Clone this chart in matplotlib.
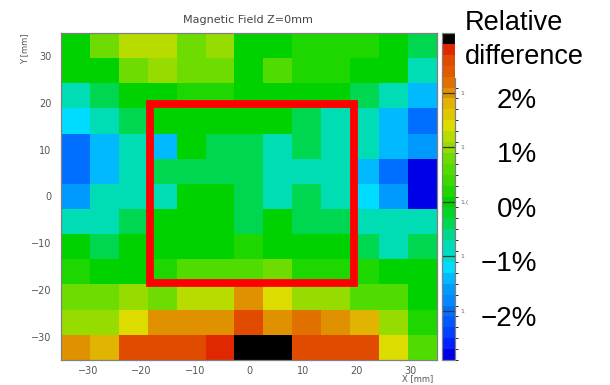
import matplotlib

matplotlib.use("Agg")
import matplotlib.pyplot as plt
import numpy as np
from matplotlib import font_manager
from matplotlib.colors import BoundaryNorm, ListedColormap
from matplotlib.patches import Rectangle
from matplotlib.transforms import ScaledTranslation, blended_transform_factory

# relative difference in percent, rows from top (y=+32) to bottom (y=-32), columns x=-32..+32
rel_diff_pct = [
    [0.0, 0.8, 1.2, 1.2, 0.8, 1.0, 0.0, 0.0, 0.2, 0.2, 0.2, 0.0, -0.4],
    [0.0, 0.0, 0.8, 1.0, 0.8, 0.8, 0.0, 0.6, 0.2, 0.2, 0.0, 0.0, -0.8],
    [-0.8, -0.4, 0.0, 0.0, 0.2, 0.2, 0.0, 0.0, 0.0, 0.0, -0.4, -0.8, -1.4],
    [-1.2, -0.8, -0.4, 0.0, 0.0, 0.0, 0.0, 0.0, -0.4, -0.8, -0.8, -1.4, -2.0],
    [-2.0, -1.4, -0.8, -1.4, 0.0, -0.4, -0.4, -0.8, -0.4, -0.8, -0.8, -1.4, -1.6],
    [-2.0, -1.4, -0.8, -0.4, -0.4, -0.4, -0.4, -0.8, -0.8, -0.8, -1.4, -2.0, -2.8],
    [-1.6, -0.8, -0.8, -0.8, 0.0, 0.0, -0.4, -0.8, -0.4, -0.8, -1.2, -1.6, -2.8],
    [-0.8, -0.8, -0.4, 0.0, 0.0, 0.0, -0.4, 0.0, -0.4, -0.4, -0.8, -0.8, -0.8],
    [0.0, -0.4, 0.0, 0.0, 0.0, 0.0, 0.2, 0.0, 0.0, 0.0, -0.4, -0.8, -0.4],
    [0.2, 0.0, 0.0, 0.2, 0.6, 0.6, 0.6, 0.8, 0.2, 0.2, 0.2, 0.0, 0.0],
    [0.8, 0.8, 1.0, 0.8, 1.2, 1.2, 2.0, 1.4, 1.0, 1.0, 0.6, 0.6, 0.0],
    [1.0, 1.0, 1.4, 2.0, 2.0, 2.0, 2.6, 2.0, 2.2, 2.0, 1.8, 1.0, 0.2],
    [2.0, 1.8, 2.6, 2.6, 2.6, 2.8, 3.0, 3.0, 2.6, 2.6, 2.6, 1.4, 0.6],
]

x_range = [-35, 35]
y_range = [-35, 35]
x_ticks = [-30, -20, -10, 0, 10, 20, 30]
y_ticks = [-30, -20, -10, 0, 10, 20, 30]

# palette bands (bottom to top) and their edges in percent
band_edges = np.arange(-2.9, 3.11, 0.2)
band_colors = [
    "#0000e6", "#0020ff", "#0040ff", "#0058ff", "#006eff", "#0088ff",
    "#009aff", "#00b9ff", "#00dcff", "#00dcc8", "#00dcb4", "#00d88c",
    "#00d750", "#00d528", "#00d200", "#1ed700", "#3cd900", "#50dc00",
    "#6edc00", "#96dc00", "#b9dc00", "#dcdc00", "#e0c800", "#e0b400",
    "#e09100", "#e07000", "#e05a00", "#e04b00", "#e02800", "#000000",
]
cbar_ticks = [-2, -1, 0, 1, 2]
cbar_small_labels = ["1", "1", "1.(", "1", "1"]
pct_labels = ["\u22122%", "\u22121%", "0%", "1%", "2%"]

# region of interest box (mm)
roi_x = [-18.5, 19.5]
roi_y = [-18.5, 19.8]

installed = {f.name for f in font_manager.fontManager.ttflist}
narrow = "Liberation Sans Narrow" if "Liberation Sans Narrow" in installed else "Liberation Sans"
pct_size = 24 if narrow == "Liberation Sans Narrow" else 20

W, H = 610, 385
fig = plt.figure(figsize=(W / 100, H / 100), dpi=100)
ax = fig.add_axes([61 / W, 1 - 360 / H, 376 / W, 327 / H])
cax = fig.add_axes([442 / W, 1 - 360 / H, 13 / W, 327 / H])

cmap = ListedColormap(band_colors)
norm = BoundaryNorm(band_edges, cmap.N)
im = ax.imshow(np.array(rel_diff_pct), cmap=cmap, norm=norm, origin="upper",
               extent=[x_range[0], x_range[1], y_range[0], y_range[1]],
               interpolation="nearest", aspect="auto")

ax.add_patch(Rectangle((roi_x[0], roi_y[0]), roi_x[1] - roi_x[0], roi_y[1] - roi_y[0],
                       fill=False, edgecolor="#ff0000", linewidth=5.6, joinstyle="miter"))

ax.set_xlim(x_range)
ax.set_ylim(y_range)
ax.set_xticks(x_ticks)
ax.set_yticks(y_ticks)
ax.tick_params(length=0, labelsize=7, labelcolor="#555555")
ax.tick_params(axis="x", pad=4)
ax.tick_params(axis="y", pad=7)
for s in ax.spines.values():
    s.set_color("#808080")
    s.set_linewidth(0.9)

fig.text(248 / W, 1 - 20 / H, "Magnetic Field Z=0mm", ha="center", va="center",
         fontsize=8, color="#444444")
fig.text(25 / W, 1 - 33 / H, "Y [mm]", rotation=90, ha="center", va="top",
         fontsize=6, color="#555555")
fig.text(433 / W, 1 - 379 / H, "X [mm]", ha="right", va="center",
         fontsize=6, color="#555555")

cb = fig.colorbar(im, cax=cax, ticks=cbar_ticks)
cb.outline.set_edgecolor("#808080")
cb.outline.set_linewidth(0.9)
cax.tick_params(axis="y", direction="in", length=9.4, width=0.9, color="#333333",
                labelsize=4.5, labelcolor="#666666", pad=4)
cb.set_ticklabels(cbar_small_labels)

# white label box over the top right of the palette
fig.patches.append(Rectangle((455 / W, 1 - 78 / H), 155 / W, 78 / H, transform=fig.transFigure,
                             facecolor="white", edgecolor="none", zorder=5))
fig.text(465 / W, 1 - 23 / H, "Relative", ha="left", va="center", fontsize=19.5,
         family="Liberation Sans", color="black", zorder=6)
fig.text(465 / W, 1 - 57 / H, "difference", ha="left", va="center", fontsize=19.5,
         family="Liberation Sans", color="black", zorder=6)

trans = blended_transform_factory(fig.transFigure, cax.transData) + \
    ScaledTranslation(0, -8 / 100, fig.dpi_scale_trans)
for v, lab in zip(cbar_ticks, pct_labels):
    fig.text(537 / W, v, lab, transform=trans, ha="right", va="center",
             fontsize=pct_size, family=[narrow, "DejaVu Sans"], color="black")

fig.savefig("out.png", dpi=100)
